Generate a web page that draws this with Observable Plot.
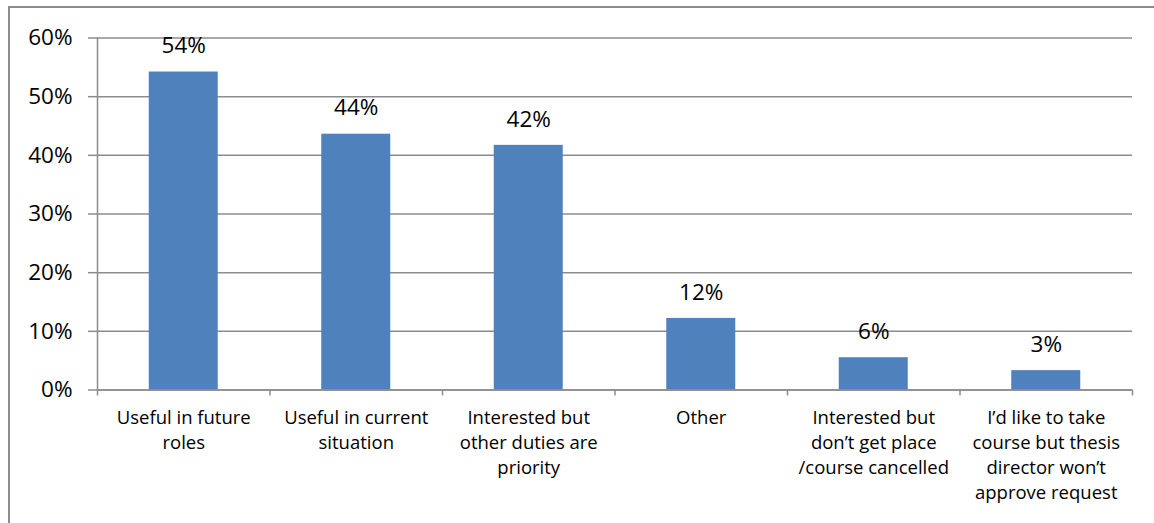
<!DOCTYPE html>
<html>
<head>
<meta charset="utf-8">
<script src="https://cdn.jsdelivr.net/npm/d3@7"></script>
<script src="https://cdn.jsdelivr.net/npm/@observablehq/plot@0.6"></script>
<style>
  html, body { margin: 0; padding: 0; background: #fff; }
  #wrap { position: relative; width: 1154px; height: 523px; overflow: hidden; }
  #frame { position: absolute; left: 8px; top: 6px; width: 1200px; height: 600px;
           border-left: 2px solid #8c8c8c; border-top: 2px solid #8c8c8c; pointer-events: none; }
  #chart { position: absolute; left: 0; top: 0; }
</style>
</head>
<body>
<div id="wrap"><div id="frame"></div><div id="chart"></div></div>
<script>
const categories = [
  "Useful in future\nroles",
  "Useful in current\nsituation",
  "Interested but\nother duties are\npriority",
  "Other",
  "Interested but\ndon\u2019t get place\n/course cancelled",
  "I\u2019d like to take\ncourse but thesis\ndirector won\u2019t\napprove request"
];
const values = [0.542, 0.436, 0.417, 0.122, 0.055, 0.033];
const valueLabels = ["54%", "44%", "42%", "12%", "6%", "3%"];
const yTicks = [0, 0.1, 0.2, 0.3, 0.4, 0.5, 0.6];

const data = categories.map((c, i) => ({i, category: c, value: values[i], label: valueLabels[i]}));
const centers = data.map(d => d.i);
const boundaries = d3.range(-0.5, categories.length, 1);

const font = "'Open Sans', Calibri, sans-serif";

const chart = Plot.plot({
  width: 1154,
  height: 523,
  marginLeft: 97,
  marginRight: 22,
  marginTop: 37.5,
  marginBottom: 133.5,
  style: {fontFamily: font, color: "#000", background: "transparent"},
  x: {type: "linear", domain: [-0.5, categories.length - 0.5]},
  y: {domain: [0, 0.6]},
  marks: [
    Plot.gridY(yTicks, {stroke: "#8c8c8c", strokeOpacity: 1, strokeWidth: 1.5}),
    Plot.rectY(data, {x1: d => d.i - 0.2, x2: d => d.i + 0.2, y1: 0, y2: "value", fill: "#4F81BD"}),
    Plot.ruleY([0], {stroke: "#8c8c8c", strokeWidth: 1.5}),
    Plot.ruleX([-0.5], {stroke: "#8c8c8c", strokeWidth: 1.5}),
    Plot.axisY({ticks: yTicks, tickFormat: d3.format(".0%"), tickSize: 9, tickPadding: 16,
                stroke: "#8c8c8c", strokeWidth: 1.5, fontSize: 22.5, label: null}),
    Plot.axisX({ticks: boundaries, tickFormat: () => "", tickSize: 6, stroke: "#8c8c8c",
                strokeWidth: 1.5, label: null}),
    Plot.axisX({ticks: centers, tickFormat: i => categories[i], tickSize: 0, tickPadding: 16,
                fontSize: 18.5, lineHeight: 1.35, label: null}),
    Plot.text(data, {x: "i", y: "value", text: "label", dy: -26, fontSize: 22.5, fill: "#000"})
  ]
});
document.getElementById("chart").appendChild(chart);
</script>
</body>
</html>
